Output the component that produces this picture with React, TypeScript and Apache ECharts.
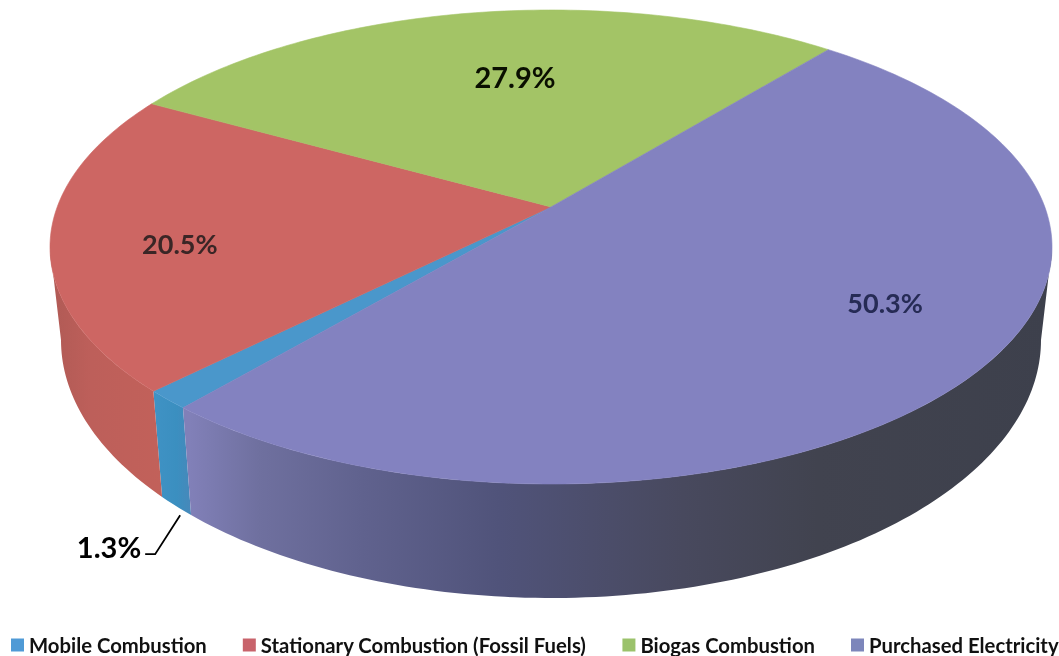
import React, { useEffect, useRef } from "react";
import * as echarts from "echarts";

const categories = ["Mobile Combustion", "Stationary Combustion (Fossil Fuels)", "Biogas Combustion", "Purchased Electricity"];
const shares = [1.3, 20.5, 27.9, 50.3];
const labels = ["1.3%", "20.5%", "27.9%", "50.3%"];
const topColors = ["#4a97cb", "#cd6663", "#a3c466", "#8382c0"];
const legendColors = ["#4f9ad6", "#c8636b", "#9bc26b", "#7d86bb"];
const labelColors = ["#000000", "#3a2626", "#0a0f00", "#262b55"];
const labelSizes = [29, 27, 29, 27];
// label anchor on the disc: clockwise angle from the far edge, fraction of radius
const labelAngles = [0, 258.2, 352.7, 121.4];
const labelRadii = [0, 0.748, 0.634, 0.741];
const FIRST_ANGLE = 220.5;

// perspective of the disc
const TILT = 0.169;
const TOP = { cx: 551, cy: 247, rx: 501, ry: 237 };
const BOTTOM = { cx: 551, cy: 340, rx: 490, ry: 258 };

const rad = (d: number) => (d * Math.PI) / 180;
function project(e: typeof TOP, angle: number, r = 1): number[] {
  const X = r * Math.sin(rad(angle));
  const Y = r * Math.cos(rad(angle));
  const w = 1 + TILT * Y;
  const p = (X * Math.sqrt(1 - TILT * TILT)) / w;
  const q = (Y + TILT) / w;
  return [e.cx + e.rx * p, e.cy - e.ry * q];
}
function arc(e: typeof TOP, a0: number, a1: number): number[][] {
  const n = Math.max(2, Math.ceil(Math.abs(a1 - a0)));
  const pts: number[][] = [];
  for (let i = 0; i <= n; i++) pts.push(project(e, a0 + ((a1 - a0) * i) / n));
  return pts;
}

const starts: number[] = [];
shares.reduce((acc, v, i) => {
  starts[i] = acc;
  return acc + (v / 100) * 360;
}, FIRST_ANGLE);

const FRONT_FROM = 90 + (Math.asin(TILT) * 180) / Math.PI;
const FRONT_TO = 270 - (Math.asin(TILT) * 180) / Math.PI;

const globalGrad = (stops: [number, string][], x0: number, x1: number) =>
  new echarts.graphic.LinearGradient(
    x0, 0, x1, 0,
    stops.map(([offset, color]) => ({ offset, color })),
    true
  );

const sideFills: any[] = [
  globalGrad([[0, "#3f92c4"], [0.55, "#3b8fc0"], [1, "#4a86b8"]], 155, 195),
  globalGrad([[0, "#b05a55"], [0.35, "#bd5f5a"], [1, "#c2615a"]], 50, 165),
  "#999",
  globalGrad(
    [[0, "#8180b8"], [0.08, "#6f709f"], [0.2, "#60628e"], [0.36, "#50537a"], [0.573, "#48495e"], [0.73, "#41434f"], [1, "#3d404c"]],
    190, 1050
  ),
];

function renderSlice(idx: number) {
  const a0 = starts[idx];
  const a1 = a0 + (shares[idx] / 100) * 360;
  const children: any[] = [];
  // sweep on [0, 720) so the front arc can be intersected on either wrap
  for (const shift of [0, 360]) {
    const from = Math.max(a0, FRONT_FROM + shift);
    const to = Math.min(a1, FRONT_TO + shift);
    if (to > from) {
      const pts = arc(TOP, from, to).concat(arc(BOTTOM, from, to).reverse());
      children.push({
        type: "polygon",
        shape: { points: pts },
        style: { fill: sideFills[idx], stroke: "none" },
      });
    }
  }
  children.push({
    type: "polygon",
    shape: { points: [project(TOP, 0, 0), ...arc(TOP, a0, a1)] },
    style: { fill: topColors[idx], stroke: topColors[idx], lineWidth: 0.6 },
  });
  if (idx === 0) {
    const mid = (a0 + a1) / 2;
    const b = project(BOTTOM, mid);
    children.push({
      type: "polyline",
      shape: { points: [[b[0] + 4, b[1] + 9], [b[0] - 21, b[1] + 48], [b[0] - 31, b[1] + 48]] },
      style: { stroke: "#000", lineWidth: 1.8, fill: "none" },
    });
    children.push({
      type: "text",
      style: {
        text: labels[idx], x: b[0] - 35, y: b[1] + 40, align: "right", verticalAlign: "middle",
        fontFamily: "Lato", fontWeight: 700, fontSize: labelSizes[idx], fill: labelColors[idx],
      },
    });
  } else {
    const p = project(TOP, labelAngles[idx], labelRadii[idx]);
    children.push({
      type: "text",
      style: {
        text: labels[idx], x: p[0], y: p[1], align: "center", verticalAlign: "middle",
        fontFamily: "Lato", fontWeight: 700, fontSize: labelSizes[idx], fill: labelColors[idx],
      },
    });
  }
  return { type: "group", children };
}

export default function App() {
  const ref = useRef<HTMLDivElement>(null);
  useEffect(() => {
    document.body.style.margin = "0";
    const chart = echarts.init(ref.current!, undefined, { renderer: "svg" });
    chart.setOption({
      animation: false,
      backgroundColor: "#ffffff",
      legend: {
        left: 11,
        top: 635,
        padding: 0,
        itemWidth: 13,
        itemHeight: 13,
        itemGap: 36,
        icon: "rect",
        selectedMode: false,
        textStyle: { fontFamily: "Lato", fontWeight: 700, fontSize: 20.3, color: "#111" },
        data: categories.map((name, i) => ({ name, itemStyle: { color: legendColors[i] } })),
      },
      series: categories.map((name, i) => ({
        type: "custom",
        name,
        coordinateSystem: "none",
        silent: true,
        itemStyle: { color: legendColors[i] },
        data: [shares[i]],
        renderItem: () => renderSlice(i),
      })),
    });
    return () => chart.dispose();
  }, []);
  return (
    <div
      ref={ref}
      style={{ position: "absolute", left: 0, top: 0, width: 1059, height: 656, filter: "blur(0.5px)" }}
    />
  );
}
